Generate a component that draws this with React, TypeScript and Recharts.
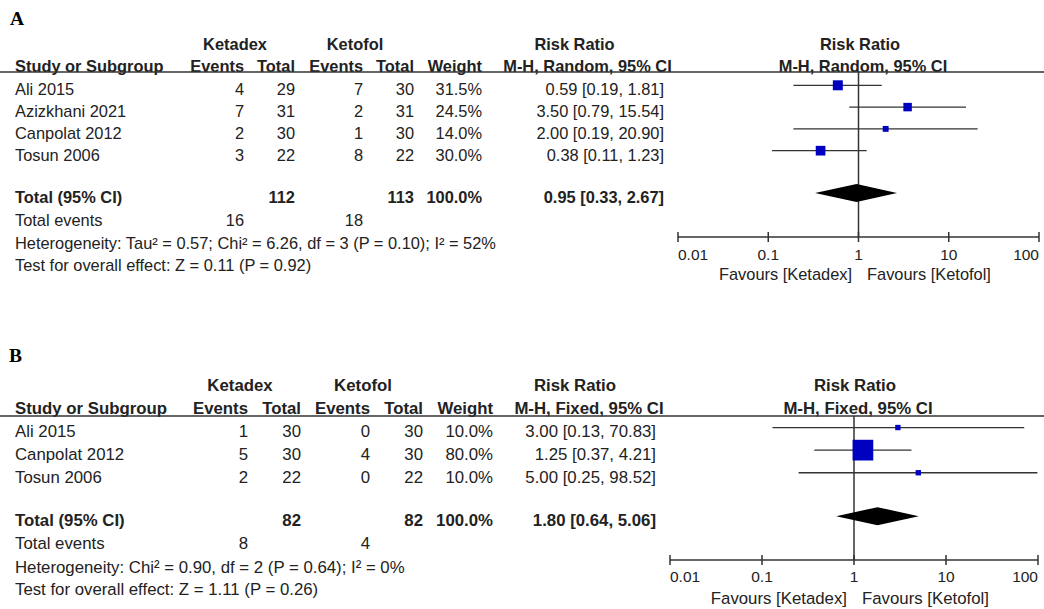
import React from 'react';
import { ComposedChart, Scatter, ErrorBar, XAxis, YAxis, ReferenceLine, Customized } from 'recharts';

// Panel A: M-H, Random
const studiesA = ['Ali 2015', 'Azizkhani 2021', 'Canpolat 2012', 'Tosun 2006'];
const ketadexEventsA = [4, 7, 2, 3];
const ketadexTotalA = [29, 31, 30, 22];
const ketofolEventsA = [7, 2, 1, 8];
const ketofolTotalA = [30, 31, 30, 22];
const weightA = [31.5, 24.5, 14.0, 30.0];
const rrA = [0.59, 3.5, 2.0, 0.38];
const lowA = [0.19, 0.79, 0.19, 0.11];
const highA = [1.81, 15.54, 20.9, 1.23];
const pooledA = [0.95, 0.33, 2.67]; // estimate, lower, upper
const totalsA = [112, 113];
const eventsA = [16, 18];
const hetA = 'Heterogeneity: Tau² = 0.57; Chi² = 6.26, df = 3 (P = 0.10); I² = 52%';
const effectA = 'Test for overall effect: Z = 0.11 (P = 0.92)';

// Panel B: M-H, Fixed
const studiesB = ['Ali 2015', 'Canpolat 2012', 'Tosun 2006'];
const ketadexEventsB = [1, 5, 2];
const ketadexTotalB = [30, 30, 22];
const ketofolEventsB = [0, 4, 0];
const ketofolTotalB = [30, 30, 22];
const weightB = [10.0, 80.0, 10.0];
const rrB = [3.0, 1.25, 5.0];
const lowB = [0.13, 0.37, 0.25];
const highB = [70.83, 4.21, 98.52];
const pooledB = [1.8, 0.64, 5.06];
const totalsB = [82, 82];
const eventsB = [8, 4];
const hetB = 'Heterogeneity: Chi² = 0.90, df = 2 (P = 0.64); I² = 0%';
const effectB = 'Test for overall effect: Z = 1.11 (P = 0.26)';

const axisTicks = [0.01, 0.1, 1, 10, 100];
const tickLabels = ['0.01', '0.1', '1', '10', '100'];

const FONT = '"Liberation Sans", Arial, Helvetica, sans-serif';
const TEXT = '#222';
const LINE = '#333';
const BOX = '#0000c0';

const layoutA = {
  top: 0, height: 300, font: 16.4, tickFont: 15.5, letter: 'A', letterX: 10, letterBase: 25,
  plotLeft: 678, plotRight: 1039, plotTop: 72, plotBottom: 237,
  rowDomain: [-0.61, 6.96], totalRow: 4.94, boxK: 1.06,
  h1: 44, h2: 66, rowY: 89, rowStep: 22, totalY: 197, eventsY: 220, hetY: 243, testY: 265,
  cols: [244, 295, 363, 414, 482, 664], groupX: [235, 355], rrHead: [574.5, 587.5], plotHead: [860, 863],
  favours: [852, 867], favoursDy: 37, tickDy: 17.4,
};

const layoutB = {
  top: 300, height: 309, font: 16.8, tickFont: 15.5, letter: 'B', letterX: 9, letterBase: 62,
  plotLeft: 670, plotRight: 1038, plotTop: 116, plotBottom: 260,
  rowDomain: [-0.51, 5.86], totalRow: 3.92, boxK: 1.2,
  h1: 85, h2: 108, rowY: 131.7, rowStep: 22.8, totalY: 220, eventsY: 243, hetY: 267, testY: 289,
  cols: [248, 301, 370, 423, 493, 656], groupX: [240, 363], rrHead: [575, 589], plotHead: [855, 858],
  favours: [847, 862], favoursDy: 38, tickDy: 16.7,
};

const Txt = ({ x, y, children, anchor = 'start', bold = false, size }: any) => (
  <text x={x} y={y} textAnchor={anchor} dominantBaseline="central" fontFamily={FONT}
    fontSize={size} fontWeight={bold ? 700 : 400} fill={TEXT}>{children}</text>
);

const ci = (e: number, l: number, h: number) => `${e.toFixed(2)} [${l.toFixed(2)}, ${h.toFixed(2)}]`;

const ForestPanel = ({ L, method, studies, kdE, kdT, kfE, kfT, weight, rr, low, high, pooled, totals, events, het, effect }: any) => {
  const points = studies.map((s: string, i: number) => ({
    x: rr[i], y: i, err: [rr[i] - low[i], high[i] - rr[i]], side: L.boxK * Math.pow(weight[i], 0.65),
  }));
  const diamond = [
    { x: pooled[1], y: L.totalRow },
    { x: pooled[0], y: L.totalRow },
    { x: pooled[2], y: L.totalRow },
  ];
  const f = L.font;
  const c = L.cols;

  const LogTick = (props: any) => {
    const { x, y, payload } = props;
    const i = axisTicks.indexOf(payload.value);
    const anchor = i === 0 ? 'start' : i === axisTicks.length - 1 ? 'end' : 'middle';
    return (
      <g>
        <line x1={x} x2={x} y1={y - 5} y2={y + 5} stroke={LINE} strokeWidth={1.5} />
        <Txt x={x} y={y + L.tickDy} anchor={anchor} size={L.tickFont}>{tickLabels[i]}</Txt>
      </g>
    );
  };

  const table = (
    <g>
      <text x={L.letterX} y={L.letterBase} fontFamily='"Liberation Serif", "Times New Roman", serif'
        fontWeight={700} fontSize={19.5} fill="#000">{L.letter}</text>
      <Txt x={L.groupX[0]} y={L.h1} anchor="middle" bold size={f}>Ketadex</Txt>
      <Txt x={L.groupX[1]} y={L.h1} anchor="middle" bold size={f}>Ketofol</Txt>
      <Txt x={L.rrHead[0]} y={L.h1} anchor="middle" bold size={f}>Risk Ratio</Txt>
      <Txt x={L.plotHead[0]} y={L.h1} anchor="middle" bold size={f}>Risk Ratio</Txt>
      <Txt x={15} y={L.h2} bold size={f}>Study or Subgroup</Txt>
      <Txt x={c[0]} y={L.h2} anchor="end" bold size={f}>Events</Txt>
      <Txt x={c[1]} y={L.h2} anchor="end" bold size={f}>Total</Txt>
      <Txt x={c[2]} y={L.h2} anchor="end" bold size={f}>Events</Txt>
      <Txt x={c[3]} y={L.h2} anchor="end" bold size={f}>Total</Txt>
      <Txt x={c[4]} y={L.h2} anchor="end" bold size={f}>Weight</Txt>
      <Txt x={L.rrHead[1]} y={L.h2} anchor="middle" bold size={f}>{`M-H, ${method}, 95% CI`}</Txt>
      <Txt x={L.plotHead[1]} y={L.h2} anchor="middle" bold size={f}>{`M-H, ${method}, 95% CI`}</Txt>
      <line x1={0} x2={1044} y1={L.plotTop} y2={L.plotTop} stroke={LINE} strokeWidth={1.3} />
      {studies.map((s: string, i: number) => {
        const y = L.rowY + i * L.rowStep;
        return (
          <g key={s}>
            <Txt x={15} y={y} size={f}>{s}</Txt>
            <Txt x={c[0]} y={y} anchor="end" size={f}>{kdE[i]}</Txt>
            <Txt x={c[1]} y={y} anchor="end" size={f}>{kdT[i]}</Txt>
            <Txt x={c[2]} y={y} anchor="end" size={f}>{kfE[i]}</Txt>
            <Txt x={c[3]} y={y} anchor="end" size={f}>{kfT[i]}</Txt>
            <Txt x={c[4]} y={y} anchor="end" size={f}>{`${weight[i].toFixed(1)}%`}</Txt>
            <Txt x={c[5]} y={y} anchor="end" size={f}>{ci(rr[i], low[i], high[i])}</Txt>
          </g>
        );
      })}
      <Txt x={15} y={L.totalY} bold size={f}>Total (95% CI)</Txt>
      <Txt x={c[1]} y={L.totalY} anchor="end" bold size={f}>{totals[0]}</Txt>
      <Txt x={c[3]} y={L.totalY} anchor="end" bold size={f}>{totals[1]}</Txt>
      <Txt x={c[4]} y={L.totalY} anchor="end" bold size={f}>100.0%</Txt>
      <Txt x={c[5]} y={L.totalY} anchor="end" bold size={f}>{ci(pooled[0], pooled[1], pooled[2])}</Txt>
      <Txt x={15} y={L.eventsY} size={f}>Total events</Txt>
      <Txt x={c[0]} y={L.eventsY} anchor="end" size={f}>{events[0]}</Txt>
      <Txt x={c[2]} y={L.eventsY} anchor="end" size={f}>{events[1]}</Txt>
      <Txt x={15} y={L.hetY} size={f}>{het}</Txt>
      <Txt x={15} y={L.testY} size={f}>{effect}</Txt>
      <Txt x={L.favours[0]} y={L.plotBottom + L.favoursDy} anchor="end" size={f}>Favours [Ketadex]</Txt>
      <Txt x={L.favours[1]} y={L.plotBottom + L.favoursDy} size={f}>Favours [Ketofol]</Txt>
    </g>
  );

  return (
    <div style={{ position: 'absolute', left: 0, top: L.top, width: 1044, height: L.height }}>
      <ComposedChart
        width={1044}
        height={L.height}
        margin={{ top: L.plotTop, left: L.plotLeft, right: 1044 - L.plotRight, bottom: L.height - L.plotBottom - 40 }}
      >
        <Customized component={table} />
        <XAxis type="number" dataKey="x" scale="log" domain={[0.01, 100]} ticks={axisTicks} allowDataOverflow
          height={40} interval={0} axisLine={{ stroke: LINE, strokeWidth: 1.6 }} tickLine={false}
          tickSize={0} tickMargin={0} tick={<LogTick />} />
        <YAxis type="number" dataKey="y" domain={L.rowDomain} reversed hide allowDataOverflow width={0} />
        <ReferenceLine x={1} stroke={LINE} strokeWidth={1.5} />
        <Scatter data={points} isAnimationActive={false}
          shape={(p: any) => (
            <rect x={p.cx - p.payload.side / 2} y={p.cy - p.payload.side / 2}
              width={p.payload.side} height={p.payload.side} fill={BOX} />
          )}>
          <ErrorBar dataKey="err" direction="x" width={0} stroke={LINE} strokeWidth={1.3} isAnimationActive={false} />
        </Scatter>
        <Scatter data={diamond} isAnimationActive={false} shape={() => <g />}
          line={(p: any) => {
            const [a, m, b] = p.points;
            return (
              <polygon points={`${a.x},${a.y} ${m.x},${m.y - 9} ${b.x},${b.y} ${m.x},${m.y + 9}`} fill="#000" stroke="none" />
            );
          }} />
      </ComposedChart>
    </div>
  );
};

export default function App() {
  return (
    <div style={{ position: 'absolute', left: 0, top: 0, width: 1044, height: 609, background: '#fff' }}>
      <ForestPanel L={layoutA} method="Random" studies={studiesA} kdE={ketadexEventsA} kdT={ketadexTotalA}
        kfE={ketofolEventsA} kfT={ketofolTotalA} weight={weightA} rr={rrA} low={lowA} high={highA}
        pooled={pooledA} totals={totalsA} events={eventsA} het={hetA} effect={effectA} />
      <ForestPanel L={layoutB} method="Fixed" studies={studiesB} kdE={ketadexEventsB} kdT={ketadexTotalB}
        kfE={ketofolEventsB} kfT={ketofolTotalB} weight={weightB} rr={rrB} low={lowB} high={highB}
        pooled={pooledB} totals={totalsB} events={eventsB} het={hetB} effect={effectB} />
    </div>
  );
}
